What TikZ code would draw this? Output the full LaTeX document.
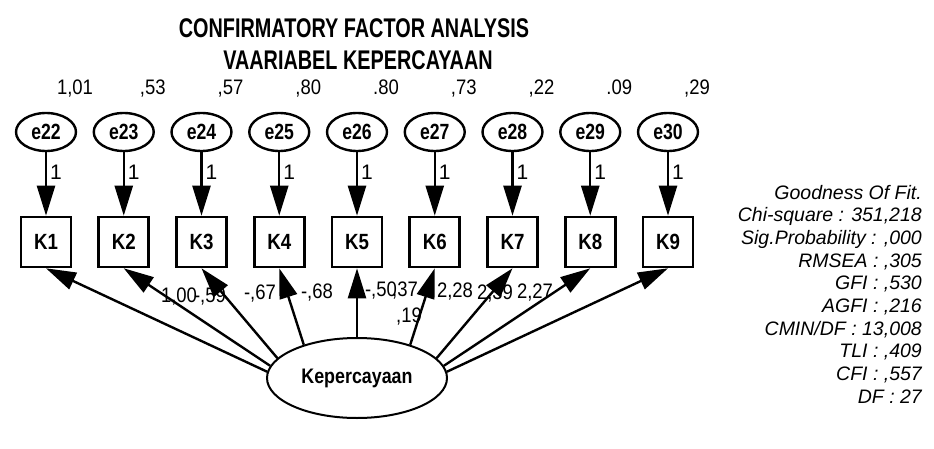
\documentclass[tikz,border=0pt]{standalone}
\usepackage{fontspec}
\setmainfont{Liberation Sans}
\usepackage{graphicx}
\usetikzlibrary{shapes.geometric,arrows.meta}
\newcommand{\narrowtxt}[2][0.85]{\scalebox{#1}[1]{#2}}
\tikzset{
  errnode/.style={draw, ellipse, line width=2.4pt, minimum width=60pt, minimum height=38pt, inner sep=0pt, font=\fontsize{22}{22}\selectfont\bfseries},
  indnode/.style={draw, rectangle, line width=2.6pt, minimum size=50pt, inner sep=0pt, font=\fontsize{22}{22}\selectfont\bfseries},
  latnode/.style={draw, ellipse, line width=2pt, minimum width=180pt, minimum height=80pt, inner sep=0pt, font=\fontsize{21}{21}\selectfont\bfseries},
  weight/.style={line width=2.4pt, -{Triangle[length=30pt,width=18pt]}},
  estlabel/.style={font=\fontsize{21}{21}\selectfont, inner sep=0pt, xscale=.88, anchor=base},
  onelabel/.style={font=\fontsize{21}{21}\selectfont, right, inner sep=3pt, pos=.32},
  titlenode/.style={font=\fontsize{27}{27}\selectfont\bfseries, xscale=.735, inner sep=0pt},
  gofline/.style={font=\fontsize{19.5}{19.5}\selectfont\itshape, anchor=base east, inner sep=0pt}
}
\begin{document}
\begin{tikzpicture}[x=1pt, y=1pt]
\useasboundingbox (0,0) rectangle (934,448);
% judul
\node[titlenode] (judul1) at (354,420) {CONFIRMATORY FACTOR ANALYSIS};
\node[titlenode] (judul2) at (358,388) {VAARIABEL KEPERCAYAAN};

\node[latnode] (kep) at (357,70) {\narrowtxt{Kepercayaan}};

% error, indikator dan varians
\foreach \k/\ei/\vv [count=\n from 0] in {1/22/{1,01},2/23/{,53},3/24/{,57},4/25/{,80},5/26/{.80},6/27/{,73},7/28/{,22},8/29/{.09},9/30/{,29}}{
  \node[errnode] (e\ei) at (46+77.75*\n,316) {\narrowtxt[.8]{e\ei}};
  \node[indnode] (k\k) at (46+77.75*\n,206) {\narrowtxt{K\k}};
  \node[estlabel] (var\ei) at (75+77.75*\n,353) {\vv};
  \draw[weight] (e\ei) -- node[onelabel] (one\ei) {1} (k\k);
}

% loading
\foreach \t/\x/\y [count=\m] in {{1,00}/179/146,{-,59}/210/146,{-,67}/260/149,{-,68}/317/150,{-,50}/381/152,{,37}/405/152,{,19}/409/126,{2,28}/455/151,{2,39}/495/149,{2,27}/535/150}
  \node[estlabel] (ld\m) at (\x,\y) {\t};

\foreach \k/\a in {1/176,2/172,3/166,4/148,5/90,6/32,7/14,8/8,9/4}
  \draw[weight] (kep.\a) -- (k\k.south);

% goodness of fit
\foreach \t [count=\n from 0] in {Goodness Of Fit.,{Chi-square : 351,218},{Sig.Probability : ,000},{RMSEA : ,305},{GFI : ,530},{AGFI : ,216},{CMIN/DF : 13,008},{TLI : ,409},{CFI : ,557},DF : 27}
  \node[gofline] (gof\n) at (922,249-22.7*\n) {\t};
\end{tikzpicture}
\end{document}
